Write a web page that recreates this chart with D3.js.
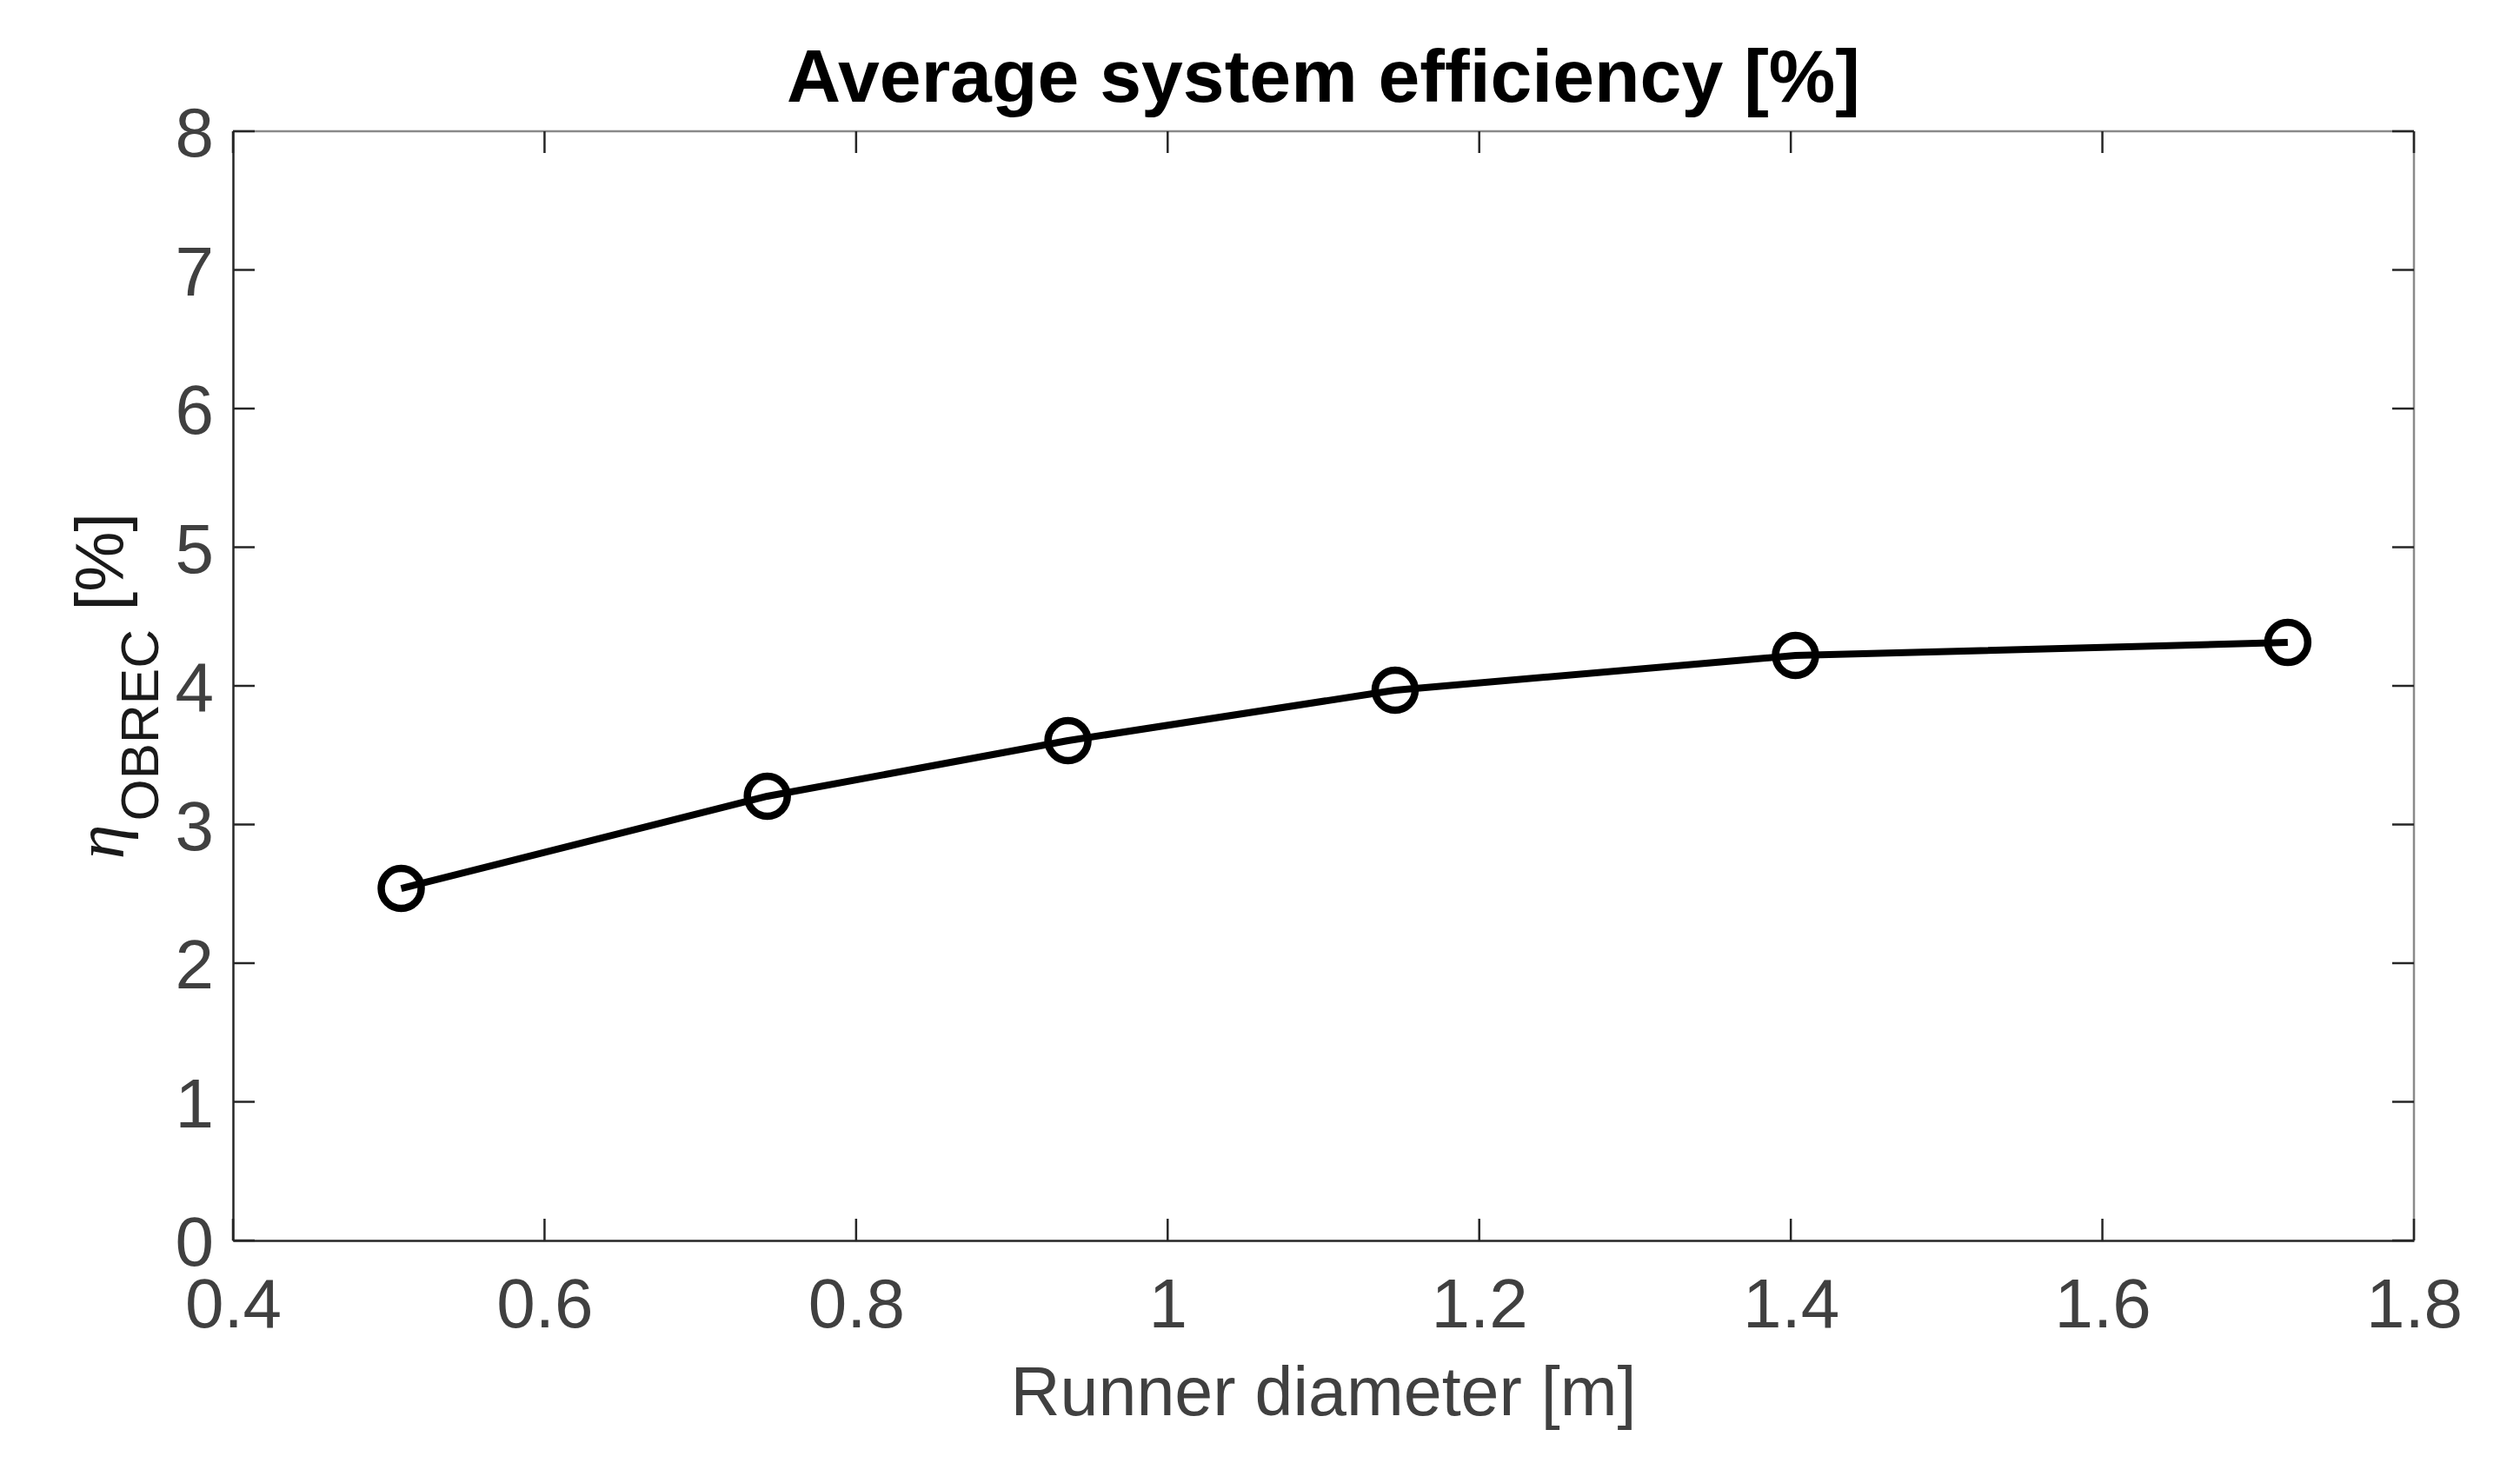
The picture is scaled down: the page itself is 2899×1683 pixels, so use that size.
<!DOCTYPE html>
<html>
<head>
<meta charset="utf-8">
<script src="https://cdn.jsdelivr.net/npm/d3@7"></script>
<style>
  html, body { margin: 0; padding: 0; background: #fff; }
  svg { display: block; }
</style>
</head>
<body>
<svg id="chart" width="2899" height="1683"></svg>
<script>
// ---- data ----
const diameters = [0.508, 0.743, 0.936, 1.146, 1.403, 1.719];
const efficiency = [2.539, 3.204, 3.605, 3.969, 4.219, 4.313];
const xTicks = [0.4, 0.6, 0.8, 1.0, 1.2, 1.4, 1.6, 1.8];
const yTicks = [0, 1, 2, 3, 4, 5, 6, 7, 8];
const titleText = "Average system efficiency [%]";
const xLabelText = "Runner diameter [m]";

// ---- layout ----
const W = 2899, H = 1683;
const L = 268, R = 2777, T = 151, B = 1427;
const svg = d3.select("#chart");

const x = d3.scaleLinear().domain([0.4, 1.8]).range([L, R]);
const y = d3.scaleLinear().domain([0, 8]).range([B, T]);

const axisColor = "#262626";
const tickTextColor = "#404040";
const fontFam = "'Liberation Sans', Arial, Helvetica, sans-serif";
const tickLen = 25;

// box top/right
svg.append("line").attr("x1", L).attr("x2", R).attr("y1", T).attr("y2", T)
  .attr("stroke", "#8a8a8a").attr("stroke-width", 2.5);
svg.append("line").attr("x1", R).attr("x2", R).attr("y1", T).attr("y2", B)
  .attr("stroke", "#8a8a8a").attr("stroke-width", 2.5);

// bottom axis
const xAxis = d3.axisBottom(x).tickValues(xTicks).tickSize(0).tickPadding(0)
  .tickFormat(d => d3.format("")(+d.toFixed(1)));
const gx = svg.append("g").attr("transform", `translate(0,${B})`).call(xAxis);
gx.select(".domain").attr("stroke", axisColor).attr("stroke-width", 2.5);
gx.selectAll("text").attr("fill", tickTextColor).attr("font-family", fontFam)
  .attr("font-size", 80).attr("dy", "0").attr("y", 100);

// left axis
const yAxis = d3.axisLeft(y).tickValues(yTicks).tickSize(0).tickPadding(0);
const gy = svg.append("g").attr("transform", `translate(${L},0)`).call(yAxis);
gy.select(".domain").attr("stroke", axisColor).attr("stroke-width", 2.5);
gy.selectAll("text").attr("fill", tickTextColor).attr("font-family", fontFam)
  .attr("font-size", 80).attr("x", -22).attr("dy", "0.36em");

// inward ticks on all four sides
const ticks = svg.append("g").attr("stroke", axisColor).attr("stroke-width", 2.5);
xTicks.forEach(t => {
  ticks.append("line").attr("x1", x(t)).attr("x2", x(t)).attr("y1", B).attr("y2", B - tickLen);
  ticks.append("line").attr("x1", x(t)).attr("x2", x(t)).attr("y1", T).attr("y2", T + tickLen);
});
yTicks.forEach(t => {
  ticks.append("line").attr("x1", L).attr("x2", L + tickLen).attr("y1", y(t)).attr("y2", y(t));
  ticks.append("line").attr("x1", R).attr("x2", R - tickLen).attr("y1", y(t)).attr("y2", y(t));
});

// data line
const pts = diameters.map((d, i) => [d, efficiency[i]]);
const line = d3.line().x(d => x(d[0])).y(d => y(d[1]));
svg.append("path").datum(pts).attr("d", line)
  .attr("fill", "none").attr("stroke", "#000").attr("stroke-width", 8)
  .attr("stroke-linejoin", "round");

svg.append("g").selectAll("circle").data(pts).join("circle")
  .attr("cx", d => x(d[0])).attr("cy", d => y(d[1])).attr("r", 23)
  .attr("fill", "none").attr("stroke", "#000").attr("stroke-width", 8.5);

// title
svg.append("text").attr("x", (L + R) / 2).attr("y", 117)
  .attr("text-anchor", "middle").attr("font-family", fontFam)
  .attr("font-weight", "bold").attr("font-size", 86).attr("fill", "#000")
  .text(titleText);

// x label
svg.append("text").attr("x", (L + R) / 2).attr("y", 1628)
  .attr("text-anchor", "middle").attr("font-family", fontFam)
  .attr("font-size", 79).attr("fill", tickTextColor)
  .text(xLabelText);

// y label (rotated)
const yl = svg.append("text")
  .attr("transform", `translate(142,${(T + B) / 2}) rotate(-90)`)
  .attr("text-anchor", "middle").attr("fill", "#1a1a1a");
yl.append("tspan").attr("font-family", "'Liberation Serif', 'Times New Roman', serif")
  .attr("font-style", "italic").attr("font-size", 80).text("η");
yl.append("tspan").attr("font-family", fontFam).attr("font-size", 62)
  .attr("dx", 4).attr("dy", 40).text("OBREC");
yl.append("tspan").attr("font-family", fontFam).attr("font-size", 78)
  .attr("dy", -40).text(" [%]");
</script>
</body>
</html>
